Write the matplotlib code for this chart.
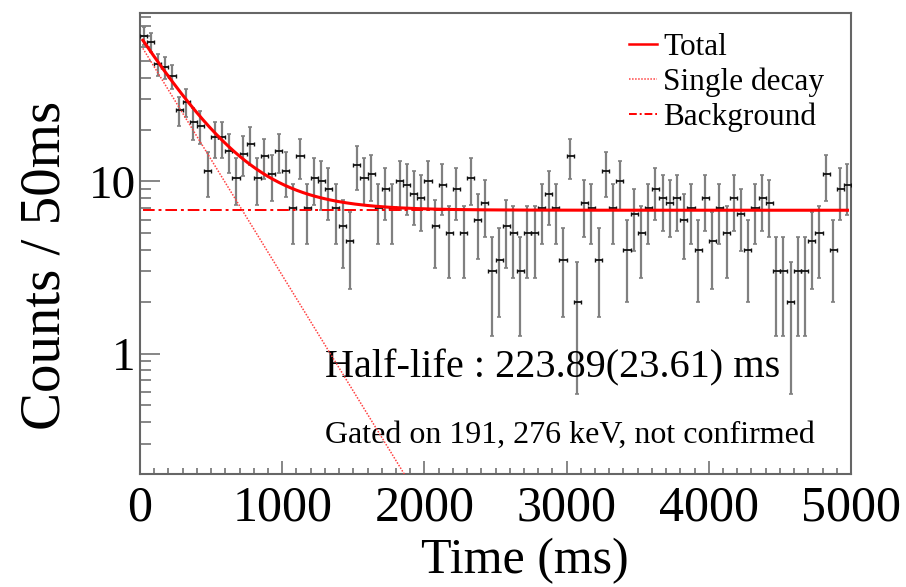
import numpy as np
import matplotlib
matplotlib.use("Agg")
import matplotlib.pyplot as plt
from matplotlib.ticker import FixedLocator, NullFormatter, FixedFormatter
from matplotlib.lines import Line2D

# Decay-time histogram: 100 bins of 50 ms
bin_width = 50.0
bin_centers = np.arange(25, 5000, 50)
counts = [70, 64.5, 48, 46, 41, 26, 29, 22, 21, 11.5,
          18, 18, 15, 10.5, 14.5, 16.5, 10.5, 14, 11, 15,
          11.5, 7, 14, 7, 10.5, 10, 9, 7, 5.5, 4.5,
          12.5, 10.5, 11, 7, 9, 7, 10, 9.5, 8.5, 8,
          10, 5.5, 9.5, 5, 9, 5, 10.5, 6, 7.5, 3,
          3.5, 5.5, 5, 3, 5, 5, 7, 8.5, 7, 3.5,
          14, 2, 7.5, 7, 3.5, 11.5, 7, 10, 4, 6.5,
          5, 7, 9, 8, 7.5, 8, 6, 7, 4, 8,
          4.5, 7, 5, 8, 6.5, 4, 7, 8, 7.5, 3,
          3, 2, 3, 3, 4.5, 5, 11, 4, 9, 9.5]

# Fit parameters: exponential decay + flat background
half_life = 223.89
half_life_err = 23.61
amplitude = 63.0
background = 6.8
fit_range = (20, 4975)

x_ticks = [0, 1000, 2000, 3000, 4000, 5000]
y_ticks = [1, 10]
y_tick_labels = ["1", "10"]

plt.rcParams["font.family"] = ["Liberation Serif", "DejaVu Serif"]

fig = plt.figure(figsize=(9.06, 5.87), dpi=100)
ax = fig.add_axes([140 / 906, 1 - 474 / 587, 711 / 906, 461 / 587])

counts_arr = np.array(counts, dtype=float)
yerr = np.sqrt(counts_arr)

# vertical (statistical) error bars
ax.errorbar(bin_centers, counts_arr, yerr=yerr, fmt="none", ecolor="#808080",
            elinewidth=1.6, capsize=1.6, capthick=1.2, zorder=2)
# horizontal (bin width) error bars
ax.errorbar(bin_centers, counts_arr, xerr=bin_width / 2, fmt="none",
            ecolor="#111111", elinewidth=1.3, capsize=1.4, capthick=1.0, zorder=3)

lam = np.log(2) / half_life
t = np.linspace(fit_range[0], fit_range[1], 1000)
single = amplitude * np.exp(-lam * t)
total = single + background

ax.plot(t, np.full_like(t, background), color="#ff0000", lw=1.4,
        linestyle=(0, (6, 2, 1.5, 2)), zorder=4, label="Background")
ax.plot(t, single, color="#ff4040", lw=1.1, linestyle=(0, (1, 1)), zorder=4,
        label="Single decay")
ax.plot(t, total, color="#ff0000", lw=2.2, zorder=5, label="Total")

ax.set_yscale("log")
ax.set_xlim(0, 5000)
ax.set_ylim(0.2, 95)

ax.xaxis.set_major_locator(FixedLocator(x_ticks))
ax.xaxis.set_minor_locator(FixedLocator(np.arange(0, 5001, 100)))
ax.yaxis.set_major_locator(FixedLocator(y_ticks))
ax.yaxis.set_major_formatter(FixedFormatter(y_tick_labels))
minor_y = [v * d for d in (0.1, 1, 10) for v in range(2, 10)]
ax.yaxis.set_minor_locator(FixedLocator(minor_y))
ax.yaxis.set_minor_formatter(NullFormatter())

frame_color = "#666666"
for side in ax.spines.values():
    side.set_color(frame_color)
    side.set_linewidth(1.5)

ax.tick_params(axis="both", which="both", direction="in", color=frame_color,
               width=1.1, top=False, right=False, labelcolor="black")
ax.tick_params(axis="x", which="major", length=9.5, labelsize=36, pad=8)
ax.tick_params(axis="x", which="minor", length=4.5)
ax.tick_params(axis="y", which="major", length=14.5, labelsize=34, pad=3)
ax.tick_params(axis="y", which="minor", length=8)

ax.set_xlabel("Time (ms)", fontsize=36)
ax.xaxis.set_label_coords((525 - 140) / 711, -(561 - 474) / 461)
ax.xaxis.label.set_va("center")
ax.set_ylabel("Counts / 50ms", fontsize=41)
ax.yaxis.set_label_coords((45 - 140) / 711, (474 - 265) / 461)
ax.yaxis.label.set_va("center")

ax.text((325 - 140) / 711, (474 - 368) / 461,
        f"Half-life : {half_life:.2f}({half_life_err:.2f}) ms",
        transform=ax.transAxes, fontsize=29, va="center", ha="left")
ax.text((325 - 140) / 711, (474 - 435) / 461,
        "Gated on 191, 276 keV, not confirmed",
        transform=ax.transAxes, fontsize=23, va="center", ha="left")

handles = [Line2D([], [], color="#ff0000", lw=1.8),
           Line2D([], [], color="#ff4040", lw=1.1, linestyle=(0, (1, 1))),
           Line2D([], [], color="#ff0000", lw=1.4, linestyle=(0, (4, 1.5, 1, 1.5)))]
ax.legend(handles, ["Total", "Single decay", "Background"],
          loc="upper left", bbox_to_anchor=((629 - 140) / 711, (474 - 33) / 461),
          frameon=False, fontsize=22.5, handlelength=0.9, handletextpad=0.2,
          labelspacing=0.18, borderpad=0, borderaxespad=0)

fig.savefig("out.png", dpi=100, facecolor="white")
